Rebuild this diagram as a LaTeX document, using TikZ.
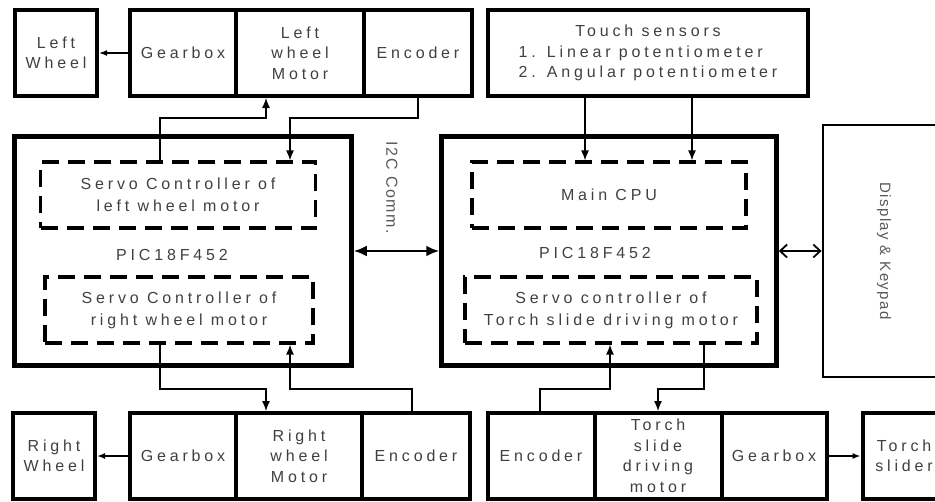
\documentclass[tikz,border=0pt]{standalone}
\usepackage{fontspec}
\setmainfont{Liberation Sans}
\newfontfamily\widefont{Liberation Sans}[LetterSpace=24]
\newfontfamily\sidefont{Liberation Sans}[LetterSpace=10]
\usetikzlibrary{arrows.meta}

\begin{document}
\begin{tikzpicture}[
    x=1pt, y=-1pt,
    box/.style={draw, rectangle, line width=4pt, minimum height=86pt, inner sep=0pt, align=center, text=black!75, font=\widefont\fontsize{16}{20.5}\selectfont},
    cpu/.style={draw, rectangle, line width=4.5pt, minimum width=337pt, minimum height=229pt},
    dashbox/.style={draw, rectangle, line width=3.2pt, dash pattern=on 17pt off 9pt, minimum height=66pt, inner sep=0pt, align=center, text=black!75, font=\widefont\fontsize{16}{22}\selectfont},
    lbl/.style={text=black!75, font=\widefont\fontsize{16}{20}\selectfont},
    sidelbl/.style={rotate=-90, text=black!65, font=\sidefont\fontsize{16}{18}\selectfont},
    arrow/.style={-{Latex[length=10pt,width=8pt]}, line width=1.3pt},
    smallarrow/.style={-{Latex[length=8pt,width=6pt]}, line width=1.5pt},
    busarrow/.style={{Latex[length=13pt,width=11pt]}-{Latex[length=13pt,width=11pt]}, line width=2.4pt},
    openarrow/.style={{Straight Barb[length=7pt,width=13pt]}-{Straight Barb[length=7pt,width=13pt]}, line width=1.8pt}
  ]
    \path[use as bounding box] (0,0) rectangle (935,501);
    \clip (0,0) rectangle (935,501);

    % Nodes
    \node[box, minimum width=82pt] (lwheel) at (56,53) {Left\\Wheel};
    \node[box, minimum width=106pt] (lgear) at (183,53) {Gearbox};
    \node[box, minimum width=128pt] (lmotor) at (300,53) {Left\\wheel\\Motor};
    \node[box, minimum width=108pt] (lenc) at (418,53) {Encoder};
    \node[box, minimum width=320pt] (touch) at (648,53) {\begin{tabular}{@{}l@{}}\multicolumn{1}{@{}c@{}}{Touch sensors}\\ 1. Linear potentiometer\\ 2. Angular potentiometer\end{tabular}};

    \node[cpu] (leftcpu) at (183,251) {};
    \node[dashbox, minimum width=275pt] (lservo) at (178,195) {Servo Controller of\\left wheel motor};
    \node[lbl] (lpic) at (172,255) {PIC18F452};
    \node[dashbox, minimum width=268pt] (rservo) at (179,310) {Servo Controller of\\right wheel motor};
    \node[sidelbl] (i2c) at (392,188) {I2C Comm.};

    \node[cpu, minimum width=335pt] (rightcpu) at (609,251) {};
    \node[dashbox, minimum width=274pt] (maincpu) at (609,195) {Main CPU};
    \node[lbl] (rpic) at (595,253) {PIC18F452};
    \node[dashbox, minimum width=292pt] (torchservo) at (611,310) {Servo controller of\\Torch slide driving motor};

    \node[draw, line width=2.8pt, rotate=-90, minimum width=252pt, minimum height=122pt, text=black!65, font=\sidefont\fontsize{15}{17}\selectfont] (display) at (884,251) {Display \& Keypad};

    \node[box, minimum width=82pt] (rwheel) at (54,456) {Right\\Wheel};
    \node[box, minimum width=106pt] (rgear) at (183,456) {Gearbox};
    \node[box, minimum width=126pt] (rmotor) at (299,456) {Right\\wheel\\Motor};
    \node[box, minimum width=108pt] (renc) at (416,456) {Encoder};

    \node[box, minimum width=107pt] (tenc) at (541,456) {Encoder};
    \node[box, minimum width=127pt] (tmotor) at (658,456) {Torch\\slide\\driving\\motor};
    \node[box, minimum width=105pt] (tgear) at (774,456) {Gearbox};
    \node[box, minimum width=83pt] (slider) at (904,456) {Torch\\slider};

    % bend points
    \coordinate (bendA) at (266,118);
    \coordinate (bendB) at (290,118);
    \coordinate (bendC) at (266,389);
    \coordinate (bendD) at (290,389);
    \coordinate (bendE) at (610,389);
    \coordinate (bendF) at (658,389);

    % Arrows
    \draw[smallarrow] (lgear) -- (lwheel);
    \draw[smallarrow] (rgear) -- (rwheel);
    \draw[smallarrow] (tgear) -- (slider);

    \draw[arrow] ([xshift=-18pt]lservo.north) |- (bendA) -- (lmotor.south -| bendA);
    \draw[arrow] (lenc.south) |- (bendB) -- (lservo.north -| bendB);
    \draw[arrow] ([xshift=-19pt]rservo.south) |- (bendC) -- (rmotor.north -| bendC);
    \draw[arrow] ([xshift=-4pt]renc.north) |- (bendD) -- (rservo.south -| bendD);

    \draw[arrow] ([xshift=-63pt]touch.south) coordinate (t1) -- (maincpu.north -| t1);
    \draw[arrow] ([xshift=44pt]touch.south) coordinate (t2) -- (maincpu.north -| t2);

    \draw[arrow] ([xshift=-1pt]tenc.north) |- (bendE) -- (torchservo.south -| bendE);
    \draw[arrow] ([xshift=93pt]torchservo.south) |- (bendF) -- (tmotor.north);

    \draw[busarrow] (leftcpu) -- (rightcpu);
    \draw[openarrow] (rightcpu) -- (display);
  \end{tikzpicture}
\end{document}
